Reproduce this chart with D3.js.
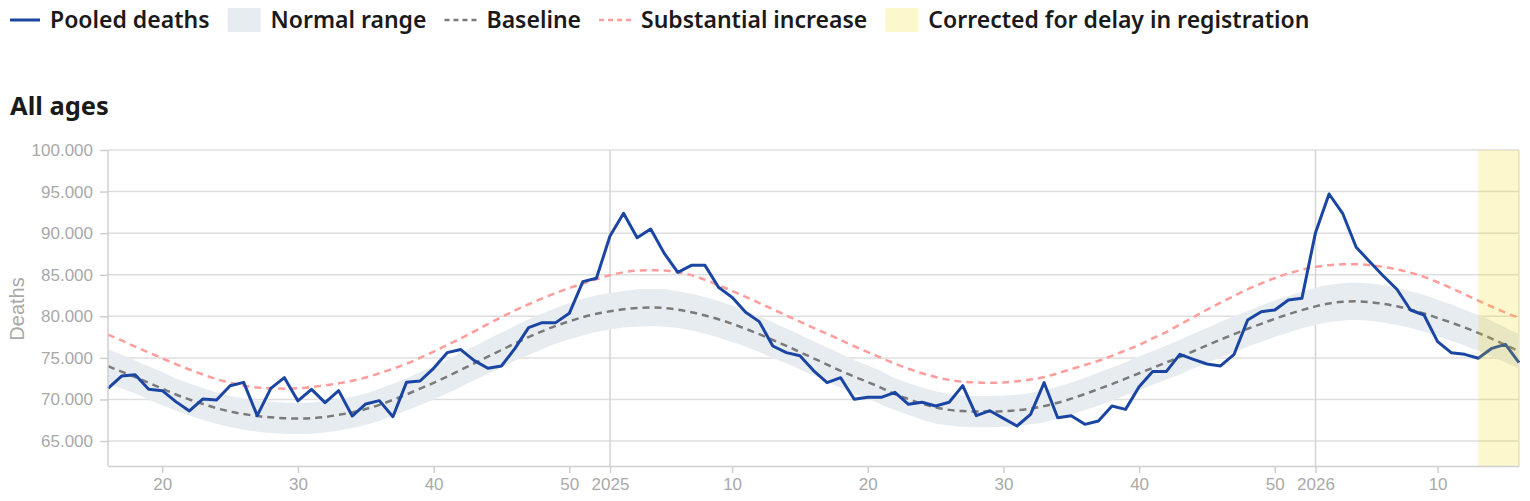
<!DOCTYPE html>
<html><head><meta charset="utf-8">
<script src="https://cdn.jsdelivr.net/npm/d3@7"></script>
<style>
body{margin:0;background:#fff;}
svg{display:block;}
</style></head><body>
<svg id="c" width="1530" height="501"></svg>
<script>
// ---- data ----
const yearWeeks = [[2024,16,52],[2025,1,52],[2026,1,16]];
const weeks = [];
yearWeeks.forEach(([y,a,b])=>{for(let w=a;w<=b;w++) weeks.push(y+"-W"+String(w).padStart(2,"0"));});

const pooled = [71340,72820,72980,71220,71060,69740,68620,70060,69940,71660,
72060,68050,71340,72620,69820,71220,69620,71060,68010,69460,
69860,67930,72060,72220,73750,75630,76000,74670,73750,74030,
76150,78640,79240,79240,80360,84170,84570,89660,92390,89460,
90500,87570,85290,86130,86130,83490,82280,80480,79360,76430,
75630,75250,73480,72020,72620,70020,70260,70260,70860,69420,
69660,69220,69660,71660,68050,68650,67730,66810,68210,72020,
67810,68050,67010,67410,69220,68810,71540,73370,73350,75430,
74830,74270,74030,75430,79560,80560,80760,81960,82160,90060,
94710,92390,88300,86570,84850,83250,80760,80160,76950,75630,
75430,74950,76150,76630,74430];

const baseline = [74000,73350,72700,72000,71300,70600,70000,69450,68950,68550,
68250,68000,67850,67750,67700,67750,67900,68150,68450,68850,
69350,69950,70600,71300,72000,72750,73550,74350,75150,75950,
76750,77500,78200,78850,79400,79900,80300,80600,80850,81000,
81050,81000,80800,80500,80100,79650,79100,78500,77850,77150,
76450,75700,74950,74200,73450,72750,72100,71400,70650,70050,
69500,69050,68750,68600,68550,68550,68600,68700,68900,69200,
69600,70100,70650,71250,71850,72500,73150,73800,74450,75100,
75800,76500,77200,77850,78500,79100,79700,80250,80750,81200,
81550,81750,81800,81700,81500,81200,80800,80350,79800,79250,
78650,78000,77300,76550,75800];

const normalHigh = [76040,75390,74690,73990,73290,72530,71930,71380,70830,70430,
70130,69880,69730,69630,69580,69630,69780,70030,70330,70730,
71280,71880,72530,73290,73990,74740,75590,76390,77240,78040,
78840,79650,80350,81000,81600,82100,82500,82800,83050,83240,
83290,83240,83000,82700,82300,81850,81300,80650,80000,79300,
78540,77790,76990,76240,75490,74740,74090,73390,72580,71980,
71430,70980,70630,70480,70430,70430,70480,70580,70780,71130,
71530,72030,72580,73240,73840,74490,75190,75840,76490,77190,
77890,78590,79350,80000,80650,81300,81900,82450,82950,83440,
83790,83990,84040,83940,83740,83440,83000,82550,82000,81450,
80800,80150,79450,78640,77890];

const normalLow = [71960,71310,70710,70010,69310,68670,68070,67520,67070,66670,
66370,66120,65970,65870,65820,65870,66020,66270,66570,66970,
67420,68020,68670,69310,70010,70760,71510,72310,73060,73860,
74660,75350,76050,76700,77200,77700,78100,78400,78650,78760,
78810,78760,78600,78300,77900,77450,76900,76350,75700,75000,
74360,73610,72910,72160,71410,70760,70110,69410,68720,68120,
67570,67120,66870,66720,66670,66670,66720,66820,67020,67270,
67670,68170,68720,69260,69860,70510,71110,71760,72410,73010,
73710,74410,75050,75700,76350,76900,77500,78050,78550,78960,
79310,79510,79560,79460,79260,78960,78600,78150,77600,77050,
76500,75850,75150,74460,73710];

const substantial = [77800,77100,76350,75650,74950,74250,73600,73000,72450,72000,
71650,71450,71350,71300,71350,71500,71700,71950,72250,72650,
73150,73700,74300,75000,75750,76550,77350,78200,79050,79900,
80700,81450,82150,82800,83400,83950,84450,84950,85300,85500,
85550,85500,85300,84950,84400,83750,83050,82350,81600,80850,
80100,79350,78600,77900,77150,76400,75700,75000,74300,73700,
73150,72700,72350,72150,72050,72000,72050,72200,72400,72700,
73150,73650,74150,74650,75250,75900,76550,77350,78100,79000,
79900,80800,81650,82450,83250,83950,84600,85150,85600,85950,
86150,86250,86250,86150,85950,85650,85250,84750,84100,83400,
82650,81900,81150,80450,79800];

const correctedRange = ["2026-W13","2026-W16"];
const xTicks = ["2024-W20","2024-W30","2024-W40","2024-W50","2025-W01","2025-W10","2025-W20","2025-W30","2025-W40","2025-W50","2026-W01","2026-W10"];
const xTickLabels = ["20","30","40","50","2025","10","20","30","40","50","2026","10"];
const yearTicks = ["2025-W01","2026-W01"];
const yTicks = [65000,70000,75000,80000,85000,90000,95000,100000];
const yDomain = [62000,100000];
const legendLabels = ["Pooled deaths","Normal range","Baseline","Substantial increase","Corrected for delay in registration"];
const title = "All ages";
const yLabel = "Deaths";

// ---- drawing ----
const svg = d3.select("#c");
const L=108, R=1519, T=150, B=466;
const x = d3.scalePoint().domain(weeks).range([L,R]).padding(0);
const y = d3.scaleLinear().domain(yDomain).range([B,T]);
const loc = d3.formatLocale({decimal:",",thousands:".",grouping:[3],currency:["","€"]});
const fmt = loc.format(",.0f");
const axisColor="#cfcfcf", labelColor="#a9a9a9";
const FONT="'Liberation Sans', Arial, sans-serif";
const BFONT="'Noto Sans', sans-serif";

// grid
svg.append("g").selectAll("line").data(yTicks).join("line")
  .attr("x1",L).attr("x2",R).attr("y1",d=>y(d)).attr("y2",d=>y(d))
  .attr("stroke","#dedede").attr("stroke-width",1.5);
svg.append("g").selectAll("line").data(yearTicks).join("line")
  .attr("x1",d=>x(d)).attr("x2",d=>x(d)).attr("y1",T).attr("y2",B)
  .attr("stroke","#d4d4d4").attr("stroke-width",1.5);
svg.append("line").attr("x1",R).attr("x2",R).attr("y1",T).attr("y2",B).attr("stroke","#e2e2e2").attr("stroke-width",1.5);

// band
const area = d3.area().x((d,i)=>x(weeks[i])).y0((d,i)=>y(normalLow[i])).y1((d,i)=>y(normalHigh[i])).curve(d3.curveMonotoneX);
svg.append("path").datum(weeks).attr("d",area).attr("fill","#e7ecf1");

const lineOf = arr => d3.line().x((d,i)=>x(weeks[i])).y(d=>y(d)).curve(d3.curveMonotoneX)(arr);
svg.append("path").attr("d",lineOf(baseline)).attr("fill","none").attr("stroke","#7a7a7a").attr("stroke-width",2.5).attr("stroke-dasharray","7,5");
svg.append("path").attr("d",lineOf(substantial)).attr("fill","none").attr("stroke","#ff9c9c").attr("stroke-width",2.5).attr("stroke-dasharray","7,5");
svg.append("path").attr("d",d3.line().x((d,i)=>x(weeks[i])).y(d=>y(d))(pooled)).attr("fill","none").attr("stroke","#1a45a3").attr("stroke-width",3).attr("stroke-linejoin","round");

// corrected overlay
svg.append("rect").attr("x",x(correctedRange[0])).attr("y",T).attr("width",x(correctedRange[1])-x(correctedRange[0])).attr("height",B-T)
  .attr("fill","#f5d60a").attr("opacity",0.2);

// axes
const gx = svg.append("g").attr("transform",`translate(0,${B})`)
  .call(d3.axisBottom(x).tickValues(xTicks).tickFormat((d,i)=>xTickLabels[i]).tickSize(7).tickPadding(5).tickSizeOuter(0));
const gy = svg.append("g").attr("transform",`translate(${L},0)`)
  .call(d3.axisLeft(y).tickValues(yTicks).tickFormat(fmt).tickSize(8).tickPadding(7).tickSizeOuter(0));
[gx,gy].forEach(g=>{
  g.select(".domain").attr("stroke",axisColor).attr("stroke-width",1.5);
  g.selectAll(".tick line").attr("stroke",axisColor).attr("stroke-width",1.5);
  g.selectAll("text").attr("fill",labelColor).style("font-family",FONT).style("font-size","17px");
});
gy.select(".domain").attr("d",`M0,${T}V${B}`);

svg.append("text").attr("transform","translate(24,309) rotate(-90)").attr("text-anchor","middle")
  .style("font-family",FONT).style("font-size","20px").attr("fill",labelColor).text(yLabel);

// title
svg.append("text").attr("x",10).attr("y",115).style("font-family",BFONT).style("font-weight",700).style("font-size","25.5px").attr("fill","#1a1a1a").text(title);

// legend
const lg = svg.append("g");
let cx = 10;
const ly = 20;
legendLabels.forEach((lab,i)=>{
  const g = lg.append("g");
  if(i===0) g.append("line").attr("x1",cx).attr("x2",cx+30).attr("y1",ly).attr("y2",ly).attr("stroke","#1a45a3").attr("stroke-width",3);
  if(i===1) g.append("rect").attr("x",cx).attr("y",ly-12).attr("width",33).attr("height",24).attr("fill","#e7ecf1");
  if(i===2) g.append("line").attr("x1",cx).attr("x2",cx+32).attr("y1",ly).attr("y2",ly).attr("stroke","#7a7a7a").attr("stroke-width",2.5).attr("stroke-dasharray","5,4");
  if(i===3) g.append("line").attr("x1",cx).attr("x2",cx+32).attr("y1",ly).attr("y2",ly).attr("stroke","#ff9c9c").attr("stroke-width",2.5).attr("stroke-dasharray","5,4");
  if(i===4) g.append("rect").attr("x",cx).attr("y",ly-12).attr("width",33).attr("height",24).attr("fill","#fdf7cc");
  const iw = i===0?30:(i===1||i===4?33:32);
  const t = g.append("text").attr("x",cx+iw+10).attr("y",ly).attr("dy","0.35em")
    .style("font-family",BFONT).style("font-weight",600).style("font-size","23px").attr("fill","#1a1a1a").text(lab);
  cx = cx+iw+10+t.node().getComputedTextLength()+18;
});
</script>
</body></html>
